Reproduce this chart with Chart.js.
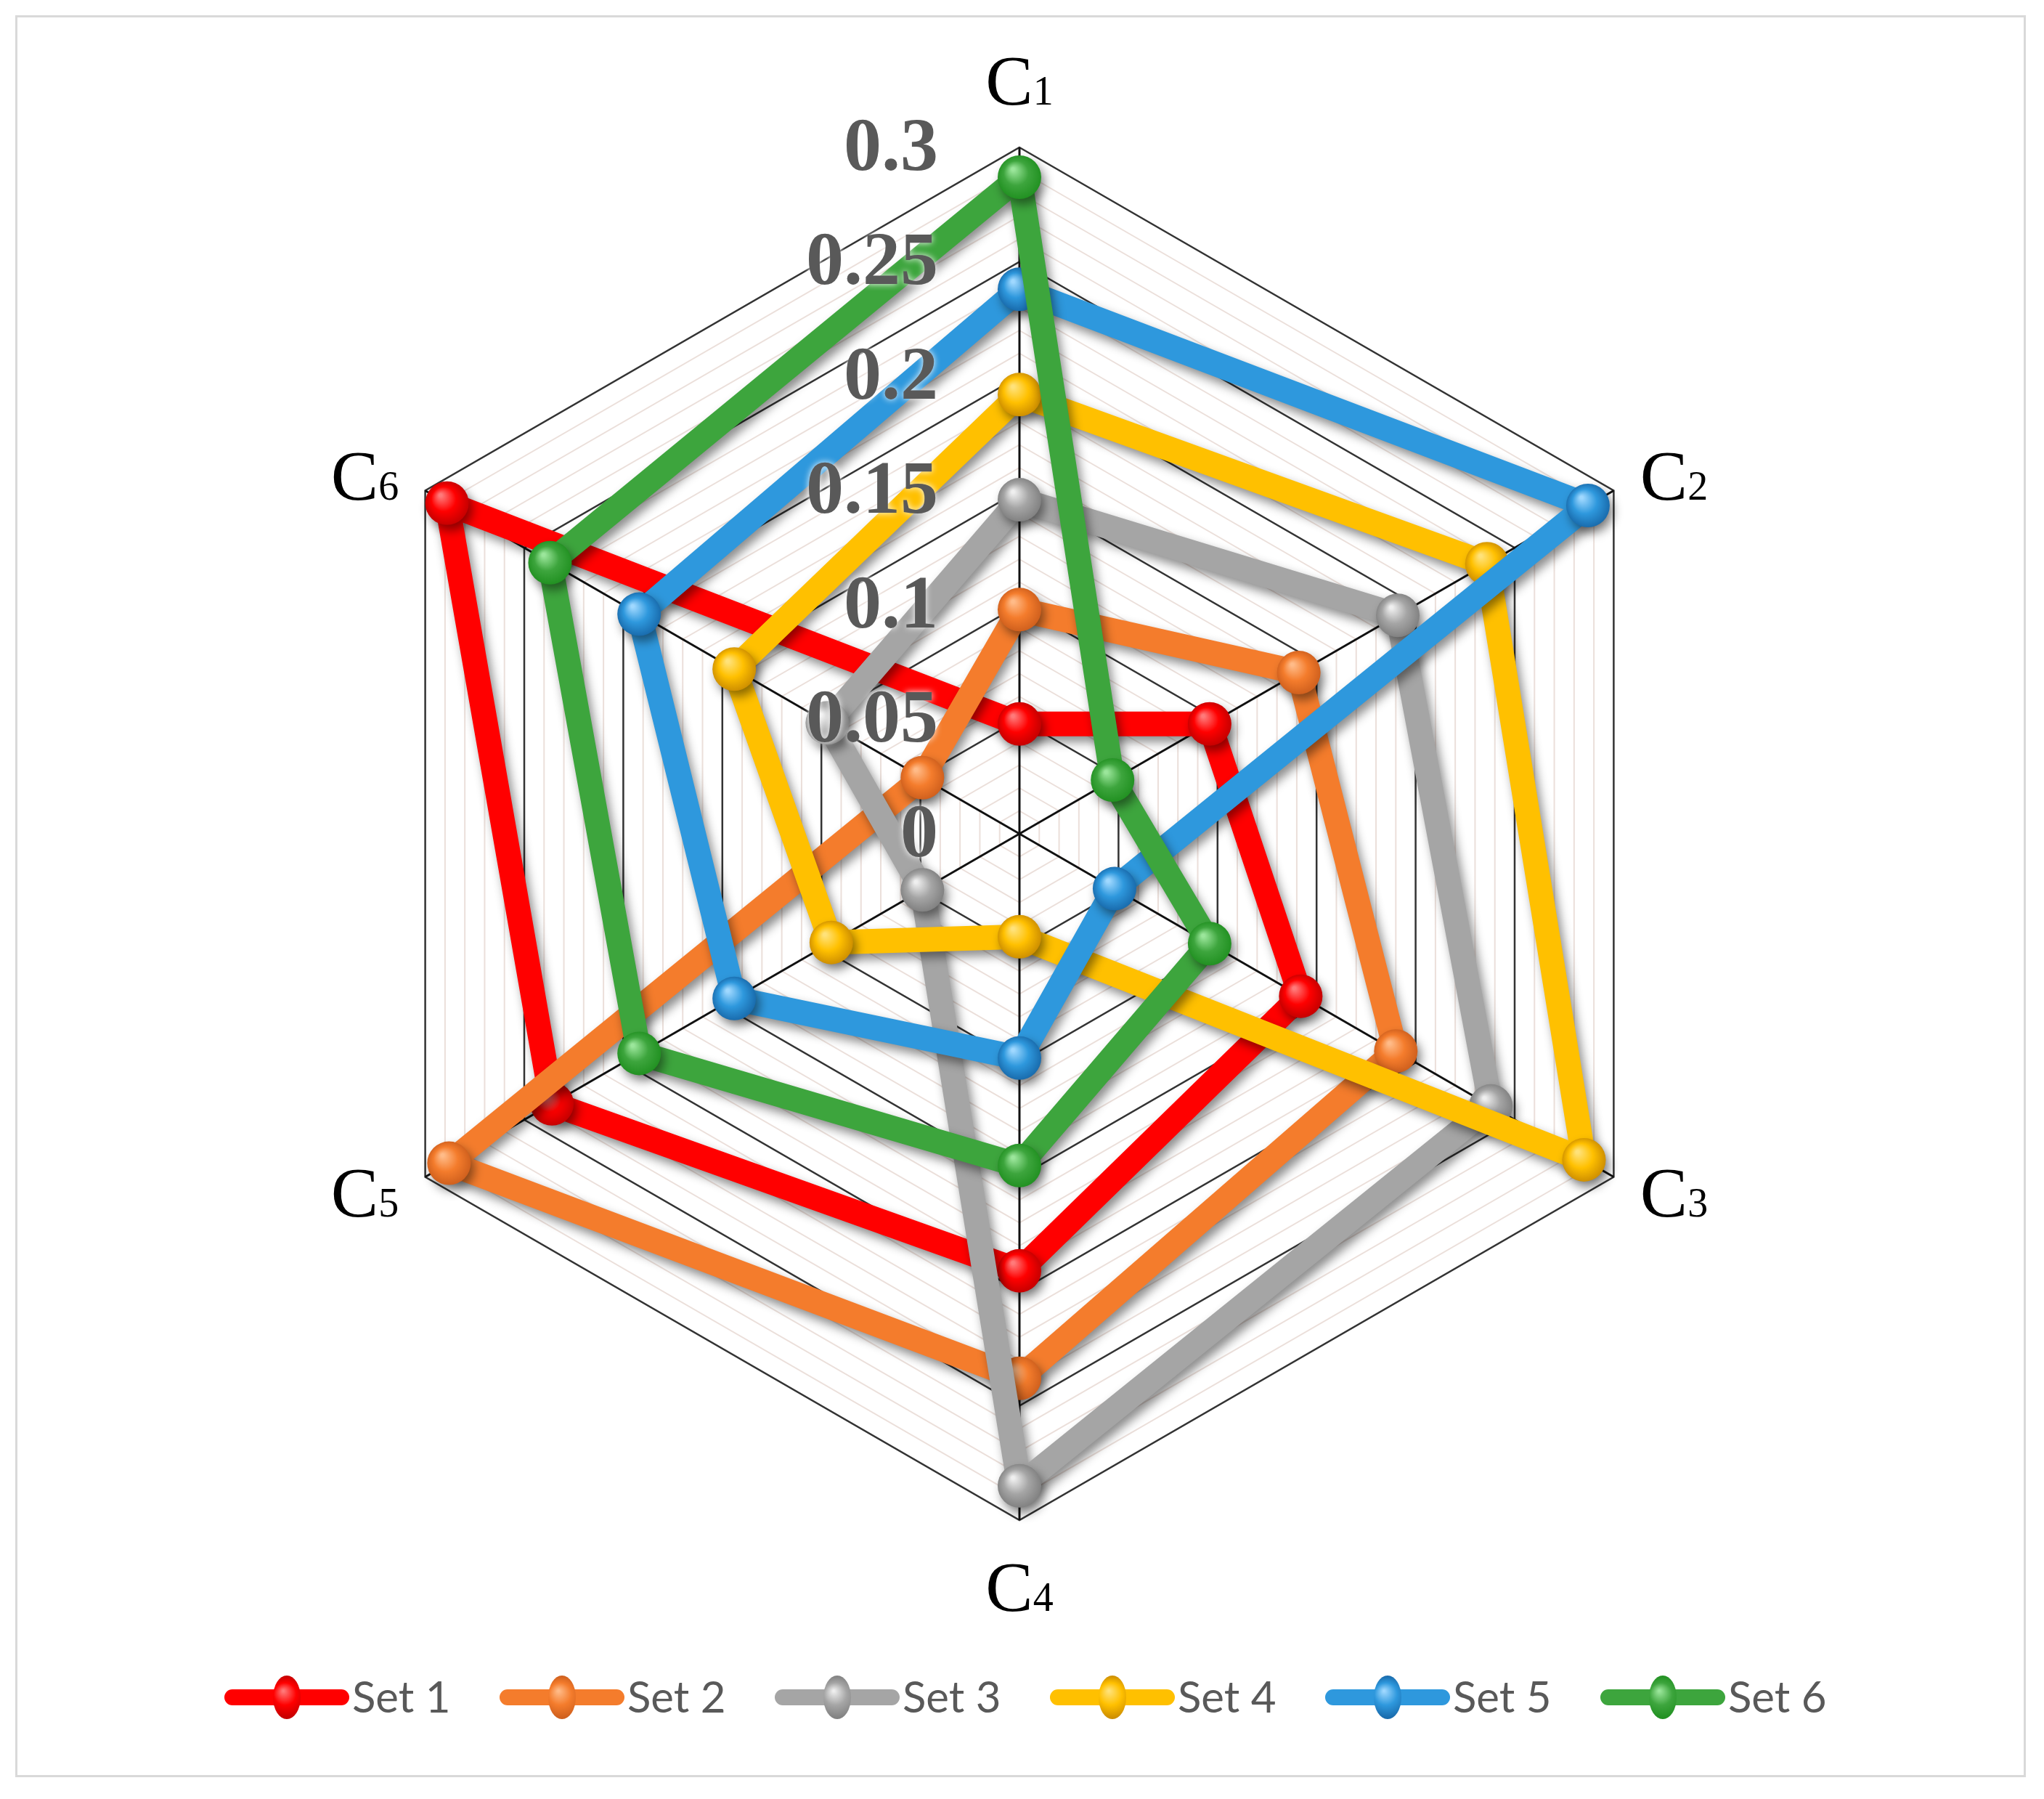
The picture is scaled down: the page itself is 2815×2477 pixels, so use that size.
<!DOCTYPE html>
<html>
<head>
<meta charset="utf-8">
<script src="https://cdn.jsdelivr.net/npm/chart.js@4.4.1/dist/chart.umd.min.js"></script>
<style>
    html, body { margin: 0; padding: 0; background: #fff; }
    #wrap { position: relative; width: 2815px; height: 2477px; }
</style>
</head>
<body>
<div id="wrap"><canvas id="radarChart"></canvas></div>
<script>
// --- data ---
const categories = ['C₁', 'C₂', 'C₃', 'C₄', 'C₅', 'C₆'];
const seriesNames = ['Set 1', 'Set 2', 'Set 3', 'Set 4', 'Set 5', 'Set 6'];

const set1 = [0.048, 0.096, 0.142, 0.191, 0.236, 0.289];
const set2 = [0.098, 0.141, 0.190, 0.238, 0.288, 0.049];
const set3 = [0.146, 0.191, 0.238, 0.285, 0.049, 0.097];
const set4 = [0.192, 0.236, 0.285, 0.045, 0.095, 0.144];
const set5 = [0.238, 0.287, 0.048, 0.098, 0.144, 0.192];
const set6 = [0.287, 0.047, 0.096, 0.145, 0.192, 0.237];

const tickLabels = ['0', '0.05', '0.1', '0.15', '0.2', '0.25', '0.3'];

const seriesColors = ['#ff0000', '#f47c2c', '#a5a5a5', '#ffc000', '#2e98dd', '#3da53d'];
const seriesLights = ['#ff7a7a', '#ffbb88', '#efefef', '#ffe27a', '#9fd8ff', '#9be69b'];
const seriesDarks  = ['#c00000', '#cc5d1c', '#7e7e7e', '#c98a00', '#1767a8', '#1f8f1f'];

const allSets = [set1, set2, set3, set4, set5, set6];

const ctx = document.getElementById("radarChart");

function isMajor(v) {
    return Math.abs(v * 20 - Math.round(v * 20)) < 1e-6;
}

function ballFill(i) {
    return (c) => {
        if (c.type !== 'data') return seriesColors[i];
        const scale = c.chart.scales.r;
        if (!scale || !scale.drawingArea) return seriesColors[i];
        const p = scale.getPointPositionForValue(c.dataIndex, c.raw);
        const g = c.chart.ctx.createRadialGradient(p.x - 9, p.y - 11, 2, p.x, p.y, 32);
        g.addColorStop(0, seriesLights[i]);
        g.addColorStop(0.5, seriesColors[i]);
        g.addColorStop(1, seriesDarks[i]);
        return g;
    };
}

const subMap = { '₀': '0', '₁': '1', '₂': '2', '₃': '3', '₄': '4', '₅': '5', '₆': '6', '₇': '7', '₈': '8', '₉': '9' };

const decor = {
    id: 'decor',
    beforeDraw(chart) {
        const c = chart.ctx;
        c.save();
        c.fillStyle = '#fff';
        c.fillRect(0, 0, chart.width, chart.height);
        c.strokeStyle = '#d9d9d9';
        c.lineWidth = 3;
        c.strokeRect(22.5, 22.5, 2766, 2423);
        c.restore();
    },
    beforeDatasetsDraw(chart) {
        const c = chart.ctx;
        c.save();
        c.shadowColor = 'rgba(0,0,0,0.45)';
        c.shadowBlur = 14;
        c.shadowOffsetX = 5;
        c.shadowOffsetY = 8;
    },
    afterDatasetsDraw(chart) {
        const c = chart.ctx;
        c.restore();
        const r = chart.scales.r;

        // tick labels, left of the first spoke
        c.save();
        c.font = 'bold 104px "Liberation Serif", serif';
        c.fillStyle = '#595959';
        c.textAlign = 'right';
        c.textBaseline = 'middle';
        c.shadowColor = '#ffffff';
        c.shadowBlur = 10;
        tickLabels.forEach(t => {
            const p = r.getPointPositionForValue(0, Number(t));
            c.fillText(t, r.xCenter - 112, p.y + 4);
        });
        c.restore();

        // category labels C + subscript
        c.save();
        c.fillStyle = '#000';
        c.textBaseline = 'alphabetic';
        const big = '98px "Liberation Serif", serif';
        const small = '56px "Liberation Serif", serif';
        categories.forEach((lab, i) => {
            const main = lab.charAt(0);
            const sub = lab.slice(1).split('').map(ch => subMap[ch] || ch).join('');
            c.font = big;
            const w1 = c.measureText(main).width;
            c.font = small;
            const w2 = c.measureText(sub).width;
            const probe = r.getPointPosition(i, r.drawingArea);
            const cosA = Math.cos(probe.angle);
            let p, x0;
            if (Math.abs(cosA) < 0.1) {
                p = r.getPointPosition(i, r.drawingArea + 92);
                x0 = p.x - (w1 + w2) / 2;
            } else {
                p = r.getPointPosition(i, r.drawingArea + 42);
                x0 = cosA > 0 ? p.x : p.x - (w1 + w2);
            }
            const base = p.y + 33;
            c.font = big;
            c.fillText(main, x0, base);
            c.font = small;
            c.fillText(sub, x0 + w1, base);
        });
        c.restore();

        // legend
        c.save();
        const lx0 = 309, step = 379, ly = 2337, len = 172;
        seriesNames.forEach((name, i) => {
            const x = lx0 + i * step;
            c.strokeStyle = seriesColors[i];
            c.lineWidth = 22;
            c.lineCap = 'round';
            c.beginPath();
            c.moveTo(x + 11, ly);
            c.lineTo(x + len - 11, ly);
            c.stroke();
            const g = c.createRadialGradient(x + len / 2 - 5, ly - 9, 1, x + len / 2, ly, 30);
            g.addColorStop(0, seriesLights[i]);
            g.addColorStop(0.5, seriesColors[i]);
            g.addColorStop(1, seriesDarks[i]);
            c.fillStyle = g;
            c.beginPath();
            c.ellipse(x + len / 2, ly, 19, 30, 0, 0, Math.PI * 2);
            c.fill();
            c.fillStyle = '#595959';
            c.font = '60px Lato, "Open Sans", sans-serif';
            c.textAlign = 'left';
            c.textBaseline = 'middle';
            c.fillText(name, x + len + 4, ly + 2);
        });
        c.restore();
    }
};

new Chart(ctx, {

    type: 'radar',

    data: {

        labels: categories,

        datasets: allSets.map((vals, i) => ({
            label: seriesNames[i],
            data: vals,
            order: allSets.length - i,
            borderColor: seriesColors[i],
            backgroundColor: 'transparent',
            fill: false,
            borderWidth: 34,
            borderJoinStyle: 'round',
            pointBackgroundColor: ballFill(i),
            pointBorderWidth: 0,
            pointRadius: 30,
            pointHoverRadius: 30
        }))
    },

    options: {

        responsive: true,

        maintainAspectRatio: false,

        animation: false,

        layout: {
            padding: { left: 459, top: 203, right: 466, bottom: 384 }
        },

        plugins: {
            legend: { display: false },
            tooltip: { enabled: false }
        },

        scales: {

            r: {

                min: 0,
                max: 0.3,

                ticks: {
                    display: false,
                    stepSize: 0.01
                },

                grid: {
                    color: c => isMajor(c.tick.value) ? '#333333' : '#ebdfda',
                    lineWidth: c => isMajor(c.tick.value) ? 2.5 : 2
                },

                angleLines: {
                    color: '#111',
                    lineWidth: 3
                },

                pointLabels: {
                    display: false
                }
            }
        }
    },

    plugins: [decor]
});
</script>
</body>
</html>
